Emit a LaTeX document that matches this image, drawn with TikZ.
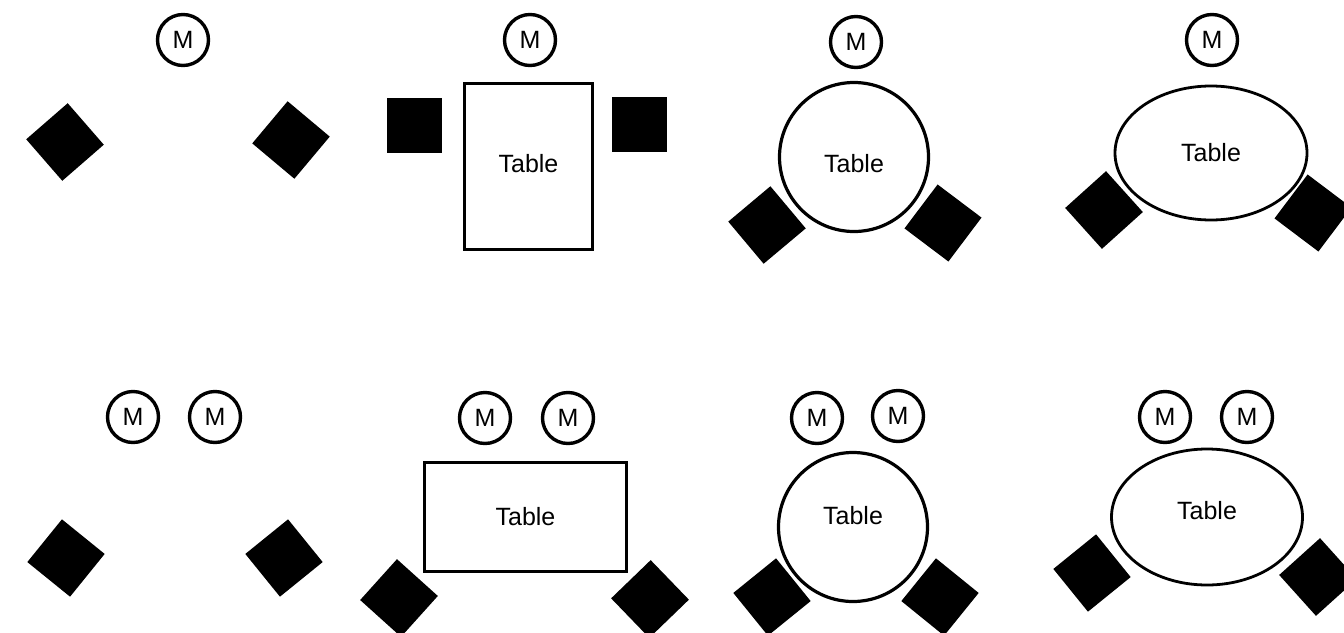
\documentclass[tikz,border=0pt]{standalone}
\usepackage{fontspec}
\setmainfont{Liberation Sans}
\usetikzlibrary{shapes.geometric}
\begin{document}
\begin{tikzpicture}[x=0.5pt,y=-0.5pt,
  mgr/.style={circle,draw=black,line width=1.7pt,minimum size=25.5pt,inner sep=0pt,font=\fontsize{12.5}{14}\selectfont},
  seat/.style={rectangle,fill=black,draw=none,minimum size=27.5pt,inner sep=0pt},
  tbl/.style={draw=black,line width=1.6pt,inner sep=0pt,font=\fontsize{12.5}{15}\selectfont},
  rtbl/.style={tbl,rectangle},
  ctbl/.style={tbl,circle},
  etbl/.style={tbl,ellipse,line width=1.4pt}]
\useasboundingbox (0,0) rectangle (1344,632);
% Panel 1
\node[mgr] (m1) at (183,40) {M};
\node[seat,rotate=41] (s1a) at (65,142) {};
\node[seat,rotate=50] (s1b) at (291,140) {};
% Panel 2
\node[mgr] (m2) at (530,40) {M};
\node[rtbl,minimum width=64pt,minimum height=83pt] (t2) at (528.5,166.5) {\raisebox{3pt}{Table}};
\node[seat] (s2a) at (414.5,125.5) {};
\node[seat] (s2b) at (639.5,124) {};
% Panel 3
\node[mgr] (m3) at (856,42) {M};
\node[ctbl,minimum size=74.5pt] (t3) at (854,157) {\raisebox{-7.5pt}[0pt][0pt]{Table}};
\node[seat,rotate=40] (s3a) at (767,225) {};
\node[seat,rotate=53] (s3b) at (943,223) {};
% Panel 4
\node[mgr] (m4) at (1212,40) {M};
\node[etbl,minimum width=96pt,minimum height=67pt] (t4) at (1211,153) {Table};
\node[seat,rotate=42] (s4a) at (1104,210) {};
\node[seat,rotate=53] (s4b) at (1313,213) {};
% Panel 5
\node[mgr] (m5a) at (133,417) {M};
\node[mgr] (m5b) at (215,417) {M};
\node[seat,rotate=51] (s5a) at (66,558) {};
\node[seat,rotate=39] (s5b) at (284,558) {};
% Panel 6
\node[mgr] (m6a) at (485,418) {M};
\node[mgr] (m6b) at (568,418) {M};
\node[rtbl,minimum width=101pt,minimum height=54.5pt] (t6) at (525.5,517) {Table};
\node[seat,rotate=48] (s6a) at (399,598) {};
\node[seat,rotate=44] (s6b) at (650,599) {};
% Panel 7
\node[mgr] (m7a) at (817,418) {M};
\node[mgr] (m7b) at (898,416) {M};
\node[ctbl,minimum size=74.5pt] (t7) at (853,527) {\raisebox{12pt}{Table}};
\node[seat,rotate=39] (s7a) at (772,597) {};
\node[seat,rotate=51] (s7b) at (940,597) {};
% Panel 8
\node[mgr] (m8a) at (1165,417) {M};
\node[mgr] (m8b) at (1247,417) {M};
\node[etbl,minimum width=95.5pt,minimum height=68pt] (t8) at (1207,517) {\raisebox{7pt}{Table}};
\node[seat,rotate=39] (s8a) at (1092,573) {};
\node[seat,rotate=42] (s8b) at (1318,577) {};
\end{tikzpicture}
\end{document}
